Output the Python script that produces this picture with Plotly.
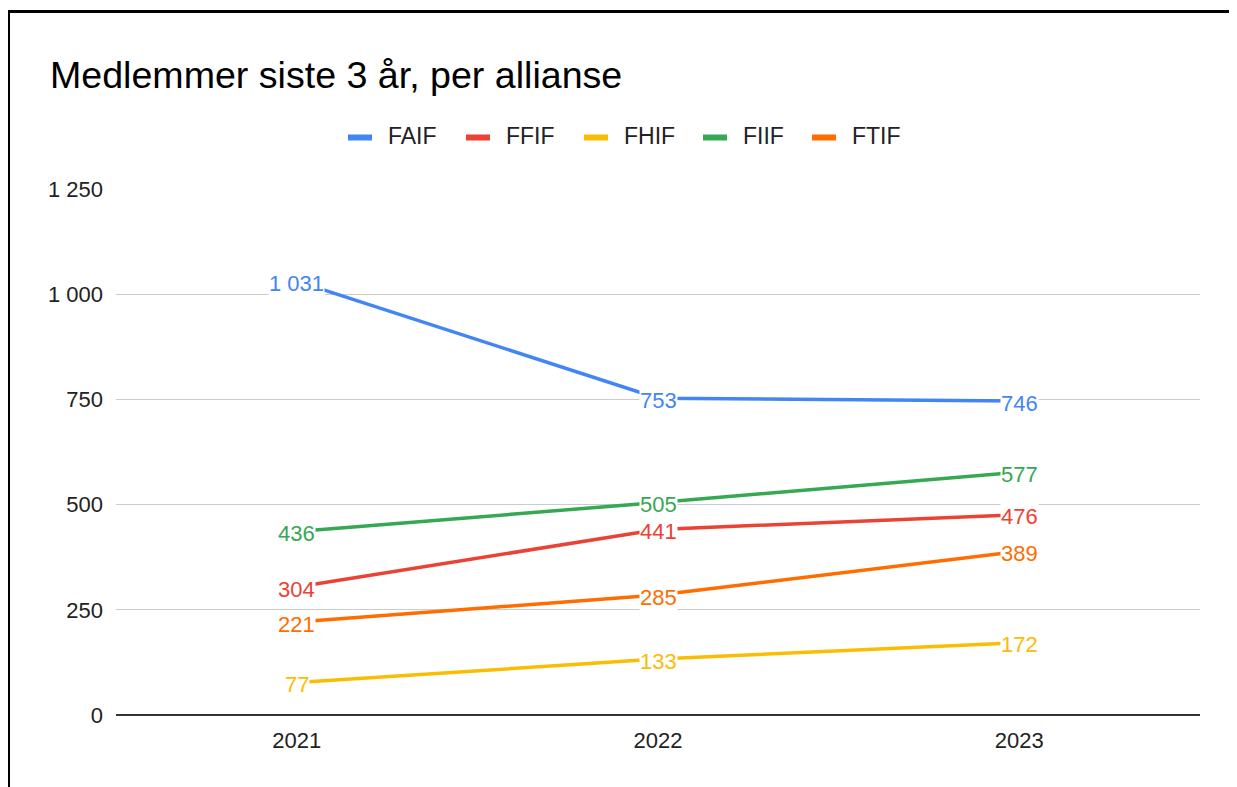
import plotly.graph_objects as go

years = ["2021", "2022", "2023"]
series_names = ["FAIF", "FFIF", "FHIF", "FIIF", "FTIF"]
faif = [1031, 753, 746]
ffif = [304, 441, 476]
fhif = [77, 133, 172]
fiif = [436, 505, 577]
ftif = [221, 285, 389]
colors = ["#4285F4", "#EA4335", "#FBBC04", "#34A853", "#FF6D01"]
y_ticks = [0, 250, 500, 750, 1000, 1250]

values = [faif, ffif, fhif, fiif, ftif]
FONT = "Arial, Liberation Sans, sans-serif"

def fmt(v):
    return f"{v:,}".replace(",", " ")

# page has an 8px body margin; figure pixel = page pixel - 8
OFF = 8
W, H = 1237 - OFF, 787 - OFF
L, R, T, B = 116 - OFF, W - (1200 - OFF), 189 - OFF, H - (715 - OFF)
pw = W - L - R
ph = H - T - B

def px_x(p):
    return (p - OFF - L) / pw

def px_y(p):
    return (H - B - (p - OFF)) / ph

fig = go.Figure()
annotations = []
shapes = []
for name, vals, col in zip(series_names, values, colors):
    fig.add_trace(go.Scatter(
        x=years, y=vals, name=name, mode="lines",
        line=dict(color=col, width=3.5), showlegend=False,
    ))
    for i, v in enumerate(vals):
        annotations.append(dict(
            x=i, y=v, xref="x", yref="y", text=fmt(v), showarrow=False,
            font=dict(family=FONT, size=22, color=col), yshift=-2,
            bgcolor="white", borderpad=0, xanchor="center", yanchor="middle",
        ))

# legend (drawn as layout items)
legend_sym_x = [348, 466, 584, 703, 812]
for name, col, sx in zip(series_names, colors, legend_sym_x):
    shapes.append(dict(type="line", xref="paper", yref="paper",
                       x0=px_x(sx), x1=px_x(sx + 24), y0=px_y(137.5), y1=px_y(137.5),
                       line=dict(color=col, width=6)))
    annotations.append(dict(x=px_x(sx + 39), y=px_y(136), xref="paper", yref="paper",
                            text=name, showarrow=False, xanchor="left", yanchor="middle",
                            borderpad=0,
                            font=dict(family=FONT, size=23, color="#222222")))

shapes.append(dict(type="rect", xref="paper", yref="paper",
                   x0=px_x(8.5), x1=px_x(1400), y0=px_y(1000), y1=px_y(11.5),
                   line=dict(color="black", width=3), fillcolor="rgba(0,0,0,0)",
                   layer="above"))

fig.update_layout(
    width=W, height=H,
    margin=dict(l=L, r=R, t=T, b=B),
    paper_bgcolor="white", plot_bgcolor="white",
    font=dict(family=FONT, size=22, color="#222222"),
    title=dict(text="Medlemmer siste 3 år, per allianse",
               font=dict(family=FONT, size=37.6, color="#000000"),
               x=(50 - OFF) / W, xanchor="left", xref="container",
               y=1 - (75 - OFF) / H, yanchor="middle", yref="container"),
    showlegend=False,
    annotations=annotations,
    shapes=shapes,
)
fig.update_xaxes(type="category", range=[-0.5, 2.5], showgrid=False,
                 showline=False, zeroline=False, ticks="",
                 ticklabelstandoff=10,
                 tickfont=dict(family=FONT, size=22, color="#222222"))
fig.update_yaxes(range=[0, 1250], tickvals=y_ticks,
                 ticktext=[fmt(v) for v in y_ticks],
                 showgrid=True, gridcolor="#cccccc", gridwidth=1.2,
                 zeroline=True, zerolinecolor="#333333", zerolinewidth=1.5,
                 showline=False, ticks="", ticklabelstandoff=12,
                 tickfont=dict(family=FONT, size=22, color="#222222"))

fig.write_html("out.html")
